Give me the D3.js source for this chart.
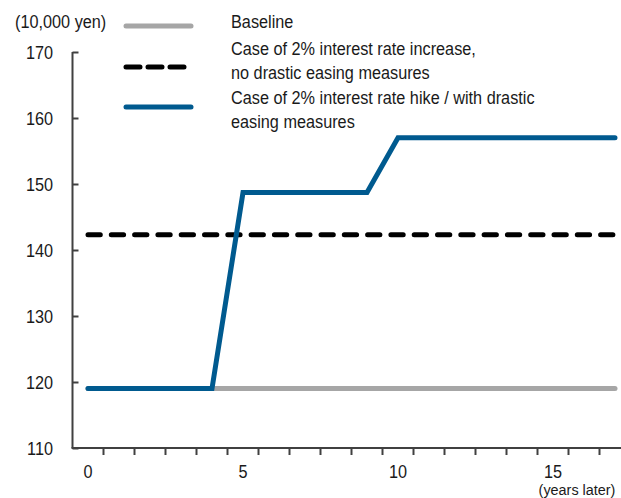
<!DOCTYPE html>
<html>
<head>
<meta charset="utf-8">
<script src="https://cdn.jsdelivr.net/npm/d3@7"></script>
<style>
  html, body { margin: 0; padding: 0; background: #fff; }
  svg text { font-family: "Liberation Sans", Arial, sans-serif; font-size: 17.5px; fill: #1a1a1a; }
</style>
</head>
<body>
<svg id="chart" width="621" height="498"></svg>
<script>
// Years after the rate change
const years = d3.range(0, 18);
// Household burden, 10,000 yen
const baseline = [119, 119, 119, 119, 119, 119, 119, 119, 119, 119, 119, 119, 119, 119, 119, 119, 119, 119];
const noEasing = [142.3, 142.3, 142.3, 142.3, 142.3, 142.3, 142.3, 142.3, 142.3, 142.3, 142.3, 142.3, 142.3, 142.3, 142.3, 142.3, 142.3, 142.3];
const withEasing = [119, 119, 119, 119, 119, 148.7, 148.7, 148.7, 148.7, 148.7, 157, 157, 157, 157, 157, 157, 157, 157];
const yTicks = [110, 120, 130, 140, 150, 160, 170];
const xLabels = [0, 5, 10, 15];
const legendLabels = [
  ["Baseline"],
  ["Case of 2% interest rate increase,", "no drastic easing measures"],
  ["Case of 2% interest rate hike / with drastic", "easing measures"]
];

(function draw() {
  const svg = d3.select("#chart");
  const plotLeft = 72.5, plotBottom = 448, plotTop = 52;
  const squeeze = 0.93; // slightly condensed lettering

  // place a text at (px, py) with horizontal condensing
  const place = (sel, px, py) => sel.attr("transform", `translate(${px},${py}) scale(${squeeze},1)`);

  const x = d3.scaleBand().domain(years).range([plotLeft, plotLeft + 31 * years.length]).paddingInner(0).paddingOuter(0);
  const y = d3.scaleLinear().domain([110, 170]).range([plotBottom, plotTop]);
  const cx = d => x(d) + x.bandwidth() / 2;

  const axisColor = "#404040";

  // Y axis: inward ticks, labels to the left
  const yAxis = svg.append("g").attr("transform", `translate(${plotLeft},0)`)
    .call(d3.axisRight(y).tickValues(yTicks).tickSize(6).tickFormat(""));
  yAxis.select(".domain").attr("stroke", axisColor).attr("stroke-width", 2).attr("d", `M0,${plotTop}V${plotBottom}`);
  yAxis.selectAll(".tick line").attr("stroke", axisColor).attr("stroke-width", 2);
  svg.append("g").selectAll("text").data(yTicks).join("text")
    .attr("text-anchor", "end").text(d => d)
    .each(function (d) { place(d3.select(this), 53, y(d) + 6.5); });

  // X axis: ticks on band boundaries
  const xAxis = svg.append("g").attr("transform", `translate(0,${plotBottom})`);
  xAxis.append("line").attr("x1", plotLeft - 1).attr("x2", 621).attr("y1", 0).attr("y2", 0)
    .attr("stroke", axisColor).attr("stroke-width", 2);
  xAxis.selectAll("line.tk").data(years.slice(1)).join("line").attr("class", "tk")
    .attr("x1", d => x(d)).attr("x2", d => x(d)).attr("y1", 0).attr("y2", 7)
    .attr("stroke", axisColor).attr("stroke-width", 2);
  svg.append("g").selectAll("text").data(xLabels).join("text")
    .attr("text-anchor", "middle").text(d => d)
    .each(function (d) { place(d3.select(this), cx(d), 477.5); });
  place(svg.append("text").attr("text-anchor", "middle").style("font-size", "15.5px").text("(years later)"), 577, 494.5);

  // Unit label
  place(svg.append("text").text("(10,000 yen)"), 15, 28);

  const line = d3.line().x((d, i) => cx(years[i])).y(d => y(d));

  svg.append("path").datum(baseline).attr("d", line)
    .attr("fill", "none").attr("stroke", "#a6a6a6").attr("stroke-width", 5).attr("stroke-linecap", "round");
  svg.append("path").datum(noEasing).attr("d", line)
    .attr("fill", "none").attr("stroke", "#000").attr("stroke-width", 5)
    .attr("stroke-linecap", "round").attr("stroke-dasharray", "12.3 11");
  svg.append("path").datum(withEasing).attr("d", line)
    .attr("fill", "none").attr("stroke", "#005a8f").attr("stroke-width", 5)
    .attr("stroke-linecap", "round").attr("stroke-linejoin", "miter");

  // Legend
  const legendStyles = [
    { stroke: "#a6a6a6", dash: null, y: 26 },
    { stroke: "#000", dash: "14 8", y: 67 },
    { stroke: "#005a8f", dash: null, y: 107 }
  ];
  const legendTextY = [[28], [55, 79], [104, 128]];
  legendStyles.forEach((s, i) => {
    svg.append("line").attr("x1", 126).attr("x2", 191).attr("y1", s.y).attr("y2", s.y)
      .attr("stroke", s.stroke).attr("stroke-width", 5).attr("stroke-linecap", "round")
      .attr("stroke-dasharray", s.dash);
    legendLabels[i].forEach((t, j) => {
      place(svg.append("text").text(t), 231, legendTextY[i][j]);
    });
  });
})();
</script>
</body>
</html>
